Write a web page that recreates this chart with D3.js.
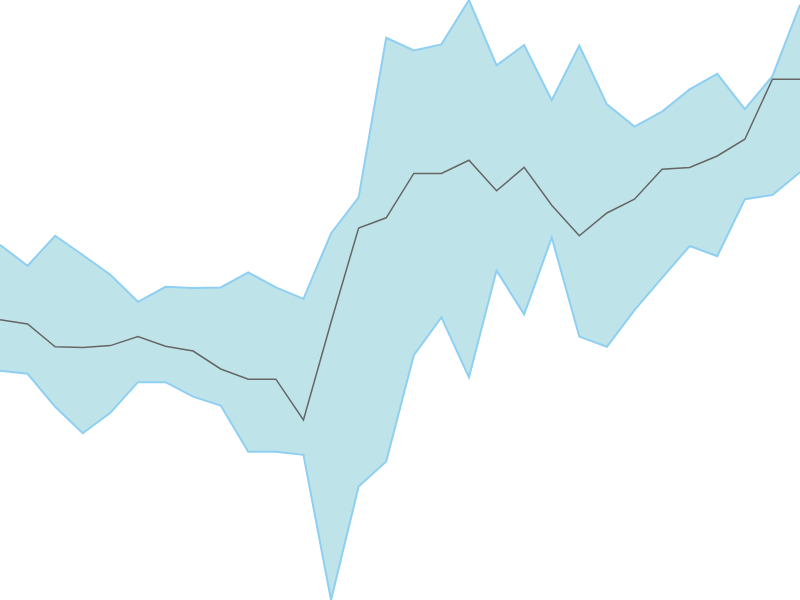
<!DOCTYPE html>
<html>
<head>
<meta charset="utf-8">
<script src="https://cdn.jsdelivr.net/npm/d3@7"></script>
<style>
  html, body { margin: 0; padding: 0; background: #fff; overflow: hidden; }
  svg { display: block; }
</style>
</head>
<body>
<svg id="chart" width="800" height="600"></svg>
<script>
const categories = d3.range(30);
const upper = [59.2, 55.7, 60.7, 57.5, 54.2, 49.7, 52.2, 52.0, 52.1, 54.6, 52.1, 50.2, 61.1, 67.1, 93.7, 91.6, 92.6, 100, 89.1, 92.5, 83.3, 92.4, 82.6, 78.9, 81.4, 85.1, 87.7, 81.8, 87.3, 99.2];
const middle = [46.7, 46.0, 42.2, 42.1, 42.4, 43.9, 42.3, 41.5, 38.5, 36.8, 36.8, 30.0, 46.3, 62.0, 63.7, 71.1, 71.1, 73.3, 68.2, 72.1, 65.8, 60.7, 64.5, 66.8, 71.8, 72.1, 74.0, 76.8, 86.8, 86.8];
const lower = [38.2, 37.7, 32.2, 27.8, 31.2, 36.3, 36.3, 33.9, 32.4, 24.7, 24.7, 24.2, 0, 18.9, 23.1, 40.8, 47.1, 37.1, 54.9, 47.6, 60.4, 43.9, 42.2, 48.3, 53.7, 59.0, 57.3, 66.8, 67.5, 71.3];

const W = 800, H = 600;
const svg = d3.select("#chart");
const x = d3.scaleLinear().domain([0, categories.length - 1]).range([0, W]);
const y = d3.scaleLinear().domain([0, 100]).range([H, 0]);

const data = categories.map((c, i) => ({ c, lo: lower[i], mid: middle[i], hi: upper[i] }));

svg.append("path")
  .datum(data)
  .attr("fill", "#bee4e9")
  .attr("stroke", "none")
  .attr("d", d3.area().x(d => x(d.c)).y0(d => y(d.lo)).y1(d => y(d.hi)));

const edge = key => d3.line().x(d => x(d.c)).y(d => y(d[key]));
["hi", "lo"].forEach(k => {
  svg.append("path")
    .datum(data)
    .attr("fill", "none")
    .attr("stroke", "#8ecff2")
    .attr("stroke-width", 2)
    .attr("stroke-linejoin", "miter")
    .attr("d", edge(k));
});

svg.append("path")
  .datum(data)
  .attr("fill", "none")
  .attr("stroke", "#666666")
  .attr("stroke-width", 1.5)
  .attr("d", edge("mid"));
</script>
</body>
</html>
